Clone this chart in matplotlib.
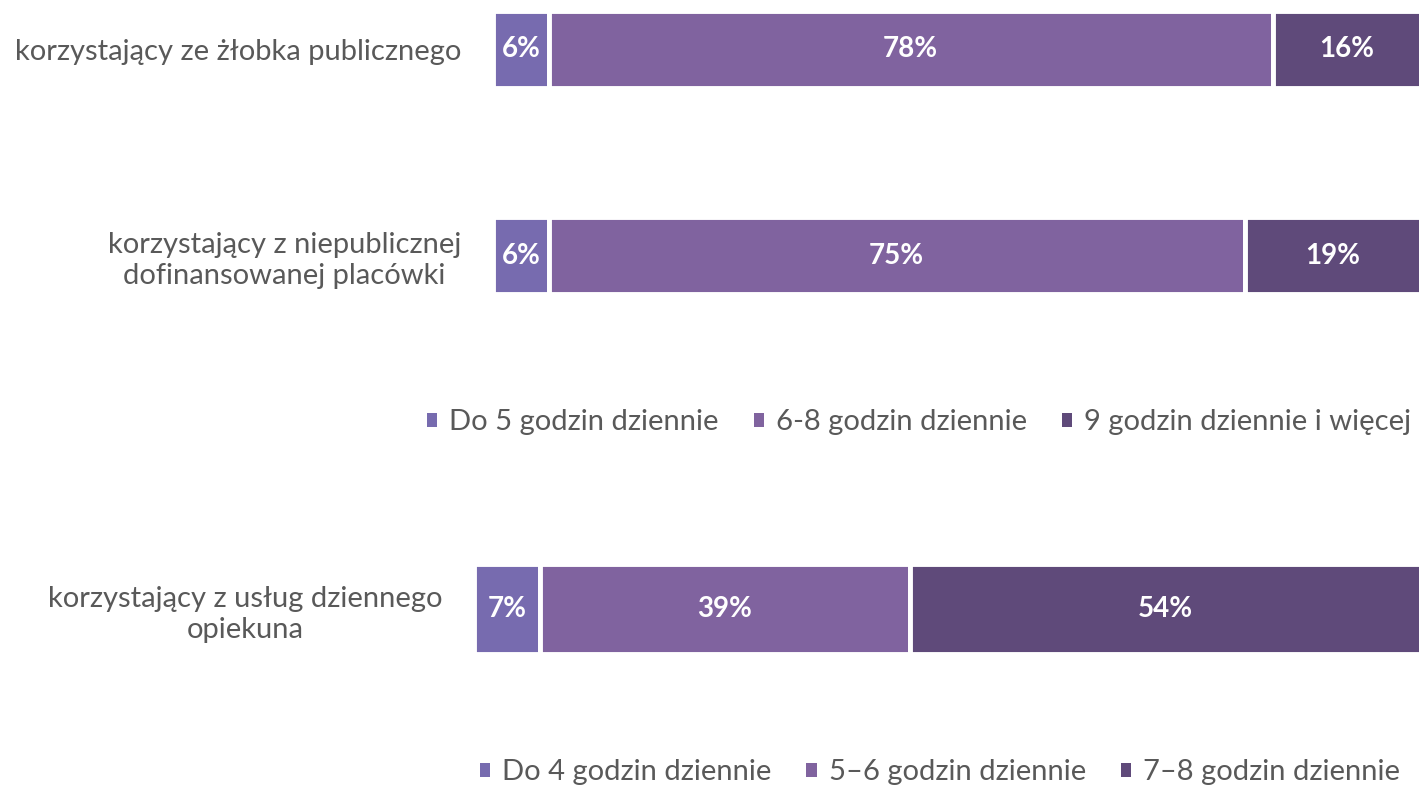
import matplotlib
matplotlib.use("Agg")
import matplotlib.pyplot as plt
from matplotlib.patches import Patch

plt.rcParams['font.family'] = ['Lato', 'DejaVu Sans']

# Data
top_categories = ["korzystający ze żłobka publicznego",
                  "korzystający z niepublicznej\ndofinansowanej placówki"]
top_series = ["Do 5 godzin dziennie", "6-8 godzin dziennie", "9 godzin dziennie i więcej"]
top_values = [[6, 6], [78, 75], [16, 19]]  # per series, per category

bottom_categories = ["korzystający z usług dziennego\nopiekuna"]
bottom_series = ["Do 4 godzin dziennie", "5–6 godzin dziennie", "7–8 godzin dziennie"]
bottom_values = [[7], [39], [54]]

colors = ["#776BAF", "#80639F", "#5F4A7A"]
text_gray = "#595959"

W, H = 1419, 787
fig = plt.figure(figsize=(W / 100, H / 100), dpi=100)


def px_axes(x0, y0, x1, y1):
    return fig.add_axes([x0 / W, 1 - y1 / H, (x1 - x0) / W, (y1 - y0) / H])


def draw(ax, cats, values, height, fs_lab, fs_val):
    ys = list(range(len(cats)))
    left = [0] * len(cats)
    for s, vals in enumerate(values):
        ax.barh(ys, vals, left=left, height=height, color=colors[s],
                edgecolor="white", linewidth=3.5)
        for i, v in enumerate(vals):
            ax.text(left[i] + v / 2, ys[i], f"{v}%", ha="center", va="center",
                    color="white", fontsize=fs_val, fontweight="bold")
        left = [l + v for l, v in zip(left, vals)]
    ax.set_xlim(0, 100)
    ax.set_yticks(ys)
    ax.set_yticklabels(cats, fontsize=fs_lab, color=text_gray, multialignment="center",
                       linespacing=1.25)
    ax.tick_params(axis="y", length=0, pad=23)
    ax.set_xticks([])
    for sp in ax.spines.values():
        sp.set_visible(False)


# Top panel
ax1 = px_axes(493, 0, 1421, 305)
draw(ax1, top_categories, top_values, 0.37, 21, 20)
ax1.set_ylim(1.24, -0.24)

# Bottom panel
ax2 = px_axes(474, 536, 1421, 682)
draw(ax2, bottom_categories, bottom_values, 0.61, 21, 20)
ax2.set_ylim(0.5, -0.5)

# Legends
h1 = [Patch(facecolor=c, edgecolor="none") for c in colors]
leg_kw = dict(loc="center", ncol=3, frameon=False, fontsize=21, labelcolor=text_gray,
              handlelength=0.36, handleheight=0.36, handletextpad=0.4,
              columnspacing=1.2, borderpad=0, borderaxespad=0)
fig.legend(h1, top_series, bbox_to_anchor=(919 / W, 1 - 422 / H), **leg_kw)
fig.legend(h1, bottom_series, bbox_to_anchor=(940 / W, 1 - 772 / H), **leg_kw)

fig.savefig("out.png", dpi=100)
